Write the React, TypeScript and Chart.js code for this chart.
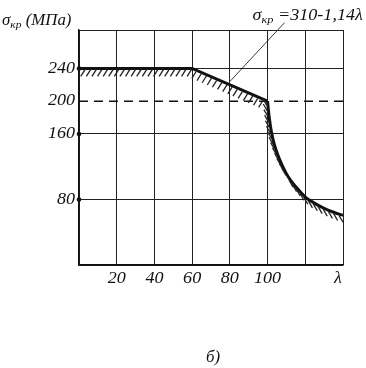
import React, { useEffect, useRef } from "react";
import { Chart, registerables } from "chart.js";

Chart.register(...registerables);

// ---- data ----
const xTickValues = [0, 20, 40, 60, 80, 100, 120, 140];
const xTickLabels = ["", "20", "40", "60", "80", "100", "", "λ"];
const yTickValues = [0, 80, 160, 200, 240, 287];
const yTickLabels = ["", "80", "160", "200", "240", ""];
const yMax = 287;

const inelasticLambda = [0, 60, 100];
const inelasticSigma = [240, 240, 200];

const eulerLambda = [100, 100.4, 101, 102, 103.5, 105.5, 108, 111, 115, 120, 125, 130, 135, 140];
const eulerSigma = [200, 190, 178, 163, 148, 134, 120.5, 107.5, 95.5, 83, 75.3, 69.2, 64.4, 60.6];

const dashLambda = [0, 140];
const dashSigma = [200, 200];

const leaderLambda = [80, 109];
const leaderSigma = [224, 296];

const dotSigma = [240, 160, 80];

const axisTitle = { sym: "σ", sub: "кр", rest: " (МПа)" };
const formula = { sym: "σ", sub: "кр", rest: " =310-1,14λ" };
const caption = "б)";

const FONT = '"Liberation Serif", "Times New Roman", serif';

const zip = (xs: number[], ys: number[]) => xs.map((x, i) => ({ x, y: ys[i] }));

function drawText(ctx: CanvasRenderingContext2D, text: string, x: number, y: number, align: CanvasTextAlign, size: number, stretch: number, baseline: CanvasTextBaseline = "alphabetic") {
  ctx.save();
  ctx.fillStyle = "#111";
  ctx.font = `italic ${size}px ${FONT}`;
  ctx.textAlign = align;
  ctx.textBaseline = baseline;
  ctx.translate(x, y);
  ctx.scale(stretch, 1);
  ctx.fillText(text, 0, 0);
  ctx.restore();
}

function drawSigma(ctx: CanvasRenderingContext2D, x: number, y: number, t: { sym: string; sub: string; rest: string }, size: number, stretch: number) {
  ctx.save();
  ctx.fillStyle = "#111";
  ctx.textBaseline = "alphabetic";
  ctx.textAlign = "left";
  ctx.translate(x, y);
  ctx.scale(stretch, 1);
  ctx.font = `italic ${size}px ${FONT}`;
  ctx.fillText(t.sym, 0, 0);
  let cx = ctx.measureText(t.sym).width;
  ctx.font = `italic ${Math.round(size * 0.66)}px ${FONT}`;
  ctx.fillText(t.sub, cx, 3);
  cx += ctx.measureText(t.sub).width;
  ctx.font = `italic ${size}px ${FONT}`;
  ctx.fillText(t.rest, cx, 0);
  ctx.restore();
}

function samplePath(points: any[]) {
  const out: { x: number; y: number }[] = [];
  for (let i = 0; i < points.length - 1; i++) {
    const a = points[i], b = points[i + 1];
    const c1x = a.cp2x ?? a.x, c1y = a.cp2y ?? a.y;
    const c2x = b.cp1x ?? b.x, c2y = b.cp1y ?? b.y;
    for (let k = 0; k <= 60; k++) {
      if (i > 0 && k === 0) continue;
      const t = k / 60, u = 1 - t;
      out.push({
        x: u * u * u * a.x + 3 * u * u * t * c1x + 3 * u * t * t * c2x + t * t * t * b.x,
        y: u * u * u * a.y + 3 * u * u * t * c1y + 3 * u * t * t * c2y + t * t * t * b.y,
      });
    }
  }
  return out;
}

const hatchPlugin = {
  id: "hatch",
  afterDatasetsDraw(chart: any) {
    const ctx: CanvasRenderingContext2D = chart.ctx;
    const area = chart.chartArea;
    ctx.save();
    ctx.beginPath();
    ctx.rect(area.left, area.top, area.right - area.left, area.bottom - area.top);
    ctx.clip();
    ctx.strokeStyle = "#222";
    ctx.lineWidth = 1.3;
    chart.data.datasets.forEach((ds: any, di: number) => {
      if (ds.hatchAngle === undefined) return;
      const meta = chart.getDatasetMeta(di);
      const s = samplePath(meta.data);
      const spacing = 5.6, len = 8;
      const ang = (ds.hatchAngle * Math.PI) / 180;
      let acc = 0, next = ds.hatchStart ?? 3;
      for (let i = 1; i < s.length; i++) {
        const dx = s[i].x - s[i - 1].x, dy = s[i].y - s[i - 1].y;
        const seg = Math.hypot(dx, dy);
        if (seg === 0) continue;
        while (acc + seg >= next) {
          const f = (next - acc) / seg;
          const px = s[i - 1].x + dx * f, py = s[i - 1].y + dy * f;
          const tx = dx / seg, ty = dy / seg;
          const nx = -ty, ny = tx;
          let ddx = Math.cos(ang), ddy = Math.sin(ang);
          if (ddx * nx + ddy * ny < 0) { ddx = -ddx; ddy = -ddy; }
          ctx.beginPath();
          ctx.moveTo(px + nx * 1.2, py + ny * 1.2);
          ctx.lineTo(px + nx * 1.2 + ddx * len, py + ny * 1.2 + ddy * len);
          ctx.stroke();
          next += spacing;
        }
        acc += seg;
      }
    });
    ctx.restore();
  },
};

const textPlugin = {
  id: "texts",
  afterDraw(chart: any) {
    const ctx: CanvasRenderingContext2D = chart.ctx;
    const xs = chart.scales.x;
    const ys = chart.scales.y;
    yTickValues.forEach((v, i) => {
      if (!yTickLabels[i]) return;
      drawText(ctx, yTickLabels[i], xs.left - 4, ys.getPixelForValue(v), "right", 16, 1.13, "middle");
    });
    xTickValues.forEach((v, i) => {
      if (!xTickLabels[i]) return;
      const px = xs.getPixelForValue(v) - (v === xTickValues[xTickValues.length - 1] ? 5 : 0);
      drawText(ctx, xTickLabels[i], px, ys.bottom + 18, "center", 16, 1.13);
    });
    drawSigma(ctx, 2, 25, axisTitle, 16, 1.05);
    const lx = xs.getPixelForValue(leaderLambda[1]);
    const ly = ys.getPixelForValue(leaderSigma[1]);
    drawSigma(ctx, lx - 32, ly - 3, formula, 16, 1.13);
    drawText(ctx, caption, 213, 362, "center", 16, 1.05);
  },
};

export default function App() {
  const ref = useRef<HTMLCanvasElement>(null);
  useEffect(() => {
    document.body.style.margin = "0";
    const chart = new Chart(ref.current!, {
      type: "scatter",
      data: {
        datasets: [
          {
            data: zip(dashLambda, dashSigma),
            showLine: true,
            borderColor: "#111",
            borderWidth: 1.5,
            borderDash: [9, 6],
            pointRadius: 0,
          } as any,
          {
            data: zip(leaderLambda, leaderSigma),
            showLine: true,
            borderColor: "#222",
            borderWidth: 0.9,
            pointRadius: 0,
            clip: false,
          } as any,
          {
            data: zip(inelasticLambda, inelasticSigma),
            showLine: true,
            borderColor: "#111",
            borderWidth: 3,
            pointRadius: 0,
            tension: 0,
            hatchAngle: 122,
            hatchStart: 6,
          } as any,
          {
            data: zip(eulerLambda, eulerSigma),
            showLine: true,
            borderColor: "#111",
            borderWidth: 3,
            pointRadius: 0,
            cubicInterpolationMode: "monotone",
            hatchAngle: 60,
            hatchStart: 4,
          } as any,
          {
            data: dotSigma.map((y) => ({ x: 0, y })),
            showLine: false,
            pointRadius: 2.3,
            pointBackgroundColor: "#111",
            pointBorderWidth: 0,
            clip: false,
          } as any,
        ],
      },
      options: {
        animation: false,
        responsive: false,
        devicePixelRatio: 1,
        layout: { padding: { left: 0, right: 23, top: 30, bottom: 0 } },
        plugins: { legend: { display: false }, tooltip: { enabled: false } },
        scales: {
          x: {
            type: "linear",
            min: 0,
            max: 140,
            afterBuildTicks: (s: any) => {
              s.ticks = xTickValues.map((v) => ({ value: v }));
            },
            afterFit: (s: any) => {
              s.height = 103;
            },
            ticks: { display: false },
            grid: { color: "#222", lineWidth: 1, drawTicks: false },
            border: { color: "#111", width: 1.4 },
          },
          y: {
            type: "linear",
            min: 0,
            max: yMax,
            afterBuildTicks: (s: any) => {
              s.ticks = yTickValues.map((v) => ({ value: v }));
            },
            afterFit: (s: any) => {
              s.width = 79;
            },
            ticks: { display: false },
            grid: {
              color: (c: any) => (c.tick && c.tick.value === 200 ? "rgba(0,0,0,0)" : "#222"),
              lineWidth: 1,
              drawTicks: false,
            },
            border: { color: "#111", width: 1.4 },
          },
        },
      } as any,
      plugins: [hatchPlugin, textPlugin],
    });
    return () => chart.destroy();
  }, []);
  return (
    <div style={{ position: "fixed", left: 0, top: 0, width: 366, height: 368, background: "#fff" }}>
      <canvas ref={ref} width={366} height={368} style={{ width: 366, height: 368, display: "block" }} />
    </div>
  );
}
